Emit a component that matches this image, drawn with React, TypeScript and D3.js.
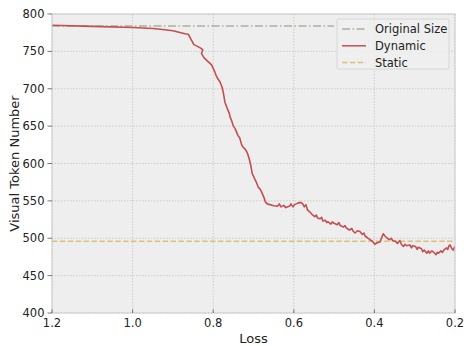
import React from 'react';
import * as d3 from 'd3';

// x ticks (loss) and y ticks (visual tokens)
const xTicks = [1.2, 1.0, 0.8, 0.6, 0.4, 0.2];
const yTicks = [400, 450, 500, 550, 600, 650, 700, 750, 800];

// Original Size: flat line
const originalLoss = [1.2, 0.5];
const originalTokens = [784, 784];

// Static: flat dashed line
const staticLoss = [1.2, 0.2];
const staticTokens = [496, 496];

// Dynamic
const dynLoss = [
  1.2, 1.1, 1.0, 0.95, 0.92, 0.9, 0.88, 0.87, 0.862, 0.855, 0.848, 0.84, 0.83, 0.826, 0.829,
  0.822, 0.812, 0.804, 0.798, 0.793, 0.788, 0.783, 0.778, 0.775, 0.773, 0.771, 0.768, 0.764,
  0.76, 0.758, 0.754, 0.75, 0.746, 0.742, 0.738, 0.734, 0.73, 0.726, 0.722, 0.717, 0.714, 0.71,
  0.707, 0.705, 0.703, 0.7, 0.696, 0.693, 0.69, 0.688, 0.684, 0.68, 0.676, 0.673, 0.671, 0.666,
  0.659, 0.65, 0.64, 0.636, 0.632, 0.625, 0.62, 0.61, 0.607, 0.602, 0.598, 0.59, 0.583, 0.578,
  0.574, 0.57, 0.566, 0.56, 0.555, 0.548, 0.544, 0.541, 0.535, 0.531, 0.528, 0.522, 0.518,
  0.515, 0.508, 0.504, 0.5, 0.492, 0.488, 0.485, 0.477, 0.473, 0.47, 0.462, 0.456, 0.452,
  0.448, 0.442, 0.436, 0.43, 0.426, 0.423, 0.418, 0.411, 0.405, 0.399, 0.393, 0.386, 0.382,
  0.378, 0.374, 0.368, 0.362, 0.358, 0.355, 0.348, 0.343, 0.337, 0.333, 0.328, 0.324, 0.32,
  0.312, 0.308, 0.305, 0.298, 0.294, 0.291, 0.283, 0.28, 0.276, 0.27, 0.266, 0.263, 0.258,
  0.254, 0.247, 0.244, 0.241, 0.235, 0.231, 0.228, 0.221, 0.218, 0.215, 0.212, 0.208, 0.204,
  0.201,
];
const dynTokens = [
  785, 783.5, 782, 780.5, 779, 777.5, 775, 773.5, 773, 766, 759, 757, 754, 752, 747,
  741, 736, 732, 725, 718, 713, 709, 702, 695, 689, 682, 678, 672,
  667, 662, 657, 650, 647, 642, 637, 634, 626, 622, 620, 616, 612, 605,
  598, 592, 586, 583, 578, 575, 571, 568, 566, 562, 557, 553, 549, 546,
  545, 543.5, 543, 546, 542, 544, 541, 543, 546, 542, 545, 547, 548, 546,
  542, 545, 538, 535, 532, 529, 531, 527, 526, 528, 523, 524, 521,
  522, 519, 522, 520, 518, 521, 517, 515, 517, 514, 511, 513, 509,
  507, 510, 509, 505, 507, 503, 501, 498, 496, 492, 494, 495, 501,
  506, 503, 500, 498, 500, 497, 496, 493, 497, 492, 489, 492, 490,
  491, 487, 490, 489, 485, 488, 486, 482, 484, 480, 483, 480, 483,
  482, 478, 481, 480, 483, 481, 484, 487, 485, 490, 491, 486, 484,
  489,
];

const W = 464;
const H = 346;
const margin = { top: 14, right: 9, bottom: 33, left: 52 };
const font = 'DejaVu Sans, sans-serif';

export default function App() {
  const iw = W - margin.left - margin.right;
  const ih = H - margin.top - margin.bottom;
  const x = d3.scaleLinear().domain([1.2, 0.2]).range([0, iw]);
  const y = d3.scaleLinear().domain([400, 800]).range([ih, 0]);

  const line = d3
    .line<[number, number]>()
    .x((d) => x(d[0]))
    .y((d) => y(d[1]));

  const dyn = dynLoss.map((l, i) => [l, dynTokens[i]] as [number, number]);
  const orig = originalLoss.map((l, i) => [l, originalTokens[i]] as [number, number]);
  const stat = staticLoss.map((l, i) => [l, staticTokens[i]] as [number, number]);

  const legendItems = [
    { name: 'Original Size', color: '#a8b39c', dash: '8,2.5,1.5,2.5' },
    { name: 'Dynamic', color: '#c44e52', dash: 'none' },
    { name: 'Static', color: '#dcc07a', dash: '5.5,2.4' },
  ];

  return (
    <svg
      width={W}
      height={H}
      style={{ position: 'absolute', left: 0, top: 0, background: '#fff' }}
      fontFamily={font}
    >
      <g transform={`translate(${margin.left},${margin.top})`}>
        <rect width={iw} height={ih} fill="#eeeeee" />
        {/* grid */}
        {yTicks.map((t) => (
          <line key={'gy' + t} x1={0} x2={iw} y1={y(t)} y2={y(t)} stroke="#bdbdbd" strokeWidth={0.7} strokeDasharray="1.5,1.5" />
        ))}
        {xTicks.map((t) => (
          <line key={'gx' + t} x1={x(t)} x2={x(t)} y1={0} y2={ih} stroke="#bdbdbd" strokeWidth={0.7} strokeDasharray="1.5,1.5" />
        ))}
        {/* lines */}
        <path d={line(orig) || ''} fill="none" stroke="#a8b39c" strokeWidth={1.5} strokeDasharray="8,2.5,1.5,2.5" />
        <path d={line(stat) || ''} fill="none" stroke="#dcc07a" strokeWidth={1.5} strokeDasharray="5.5,2.4" />
        <path d={line(dyn) || ''} fill="none" stroke="#c44e52" strokeWidth={1.6} strokeLinejoin="round" />
        {/* frame */}
        <rect width={iw} height={ih} fill="none" stroke="#cccccc" strokeWidth={1} />
        {/* y ticks */}
        {yTicks.map((t) => (
          <g key={'ty' + t} transform={`translate(0,${y(t)})`}>
            <line x1={-4.5} x2={0} stroke="#555" strokeWidth={0.8} />
            <text x={-7.5} dy="0.35em" textAnchor="end" fontSize={11.5} fill="#222">
              {t}
            </text>
          </g>
        ))}
        {/* x ticks */}
        {xTicks.map((t) => (
          <g key={'tx' + t} transform={`translate(${x(t)},${ih})`}>
            <line y1={0} y2={-3.5} stroke="#555" strokeWidth={0.8} />
            <text y={13.5} textAnchor="middle" fontSize={11.5} fill="#222">
              {t.toFixed(1)}
            </text>
          </g>
        ))}
        <text x={iw / 2} y={ih + 30} textAnchor="middle" fontSize={13} fill="#222">
          Loss
        </text>
        <text transform={`translate(${-33},${ih / 2}) rotate(-90)`} textAnchor="middle" fontSize={13} fill="#222">
          Visual Token Number
        </text>
        {/* legend */}
        <g transform={`translate(${iw - 118},5)`}>
          <rect width={112} height={50} rx={2} fill="#eeeeee" fillOpacity={0.85} stroke="#d0d0d0" strokeWidth={0.8} />
          {legendItems.map((it, i) => (
            <g key={it.name} transform={`translate(0,${10 + i * 16.8})`}>
              <line x1={5} x2={29} stroke={it.color} strokeWidth={1.5} strokeDasharray={it.dash} />
              <text x={38} dy="0.35em" fontSize={11.5} fill="#222">
                {it.name}
              </text>
            </g>
          ))}
        </g>
      </g>
    </svg>
  );
}
